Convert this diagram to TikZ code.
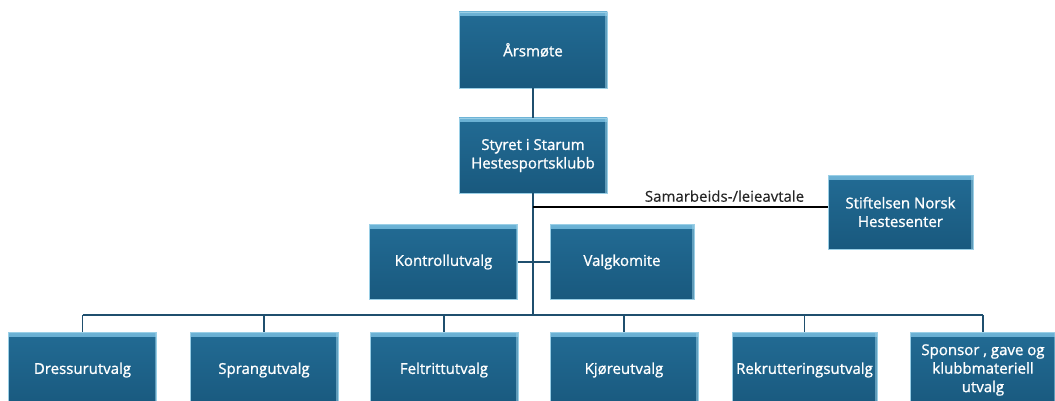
\documentclass[tikz,border=0pt]{standalone}
\usepackage{fontspec}
\setmainfont{Open Sans}[FakeBold=1.1]
\newfontfamily\labelfont{Open Sans}[FakeBold=0.3]
\definecolor{boxblue}{HTML}{19597E}
\definecolor{boxlight}{HTML}{226B94}
\definecolor{boxtop}{HTML}{6DB3D6}
\definecolor{boxedge}{HTML}{9ACFE6}
\definecolor{linkblue}{HTML}{1F4F6E}
\tikzset{
  orgbox/.style={rectangle, top color=boxlight, bottom color=boxblue, draw=boxedge, line width=0.7pt,
    text=white, font=\fontsize{15}{18.5}\selectfont, align=center,
    inner sep=2pt,
    path picture={
      \shade[top color=boxtop, bottom color=boxlight]
        (path picture bounding box.north west) rectangle
        ([yshift=-4pt]path picture bounding box.north east);
      \fill[boxedge, opacity=0.55]
        ([xshift=-2pt]path picture bounding box.north east) rectangle
        (path picture bounding box.south east);
    }},
  link/.style={draw=linkblue, line width=1.6pt},
  deal/.style={draw=black, line width=1.6pt},
}
\begin{document}
\begin{tikzpicture}[x=1pt,y=-1pt]
\useasboundingbox (0,0) rectangle (1055,401);
\begin{scope}
\clip (0,0) rectangle (1055,401);
% nodes
\node[orgbox, minimum width=148pt, minimum height=76pt] (aars) at (533,50) {Årsmøte};
\node[orgbox, minimum width=148pt, minimum height=75pt] (styret) at (533,155.5) {Styret i Starum\\Hestesportsklubb};
\node[orgbox, minimum width=145pt, minimum height=74pt] (stift) at (900.5,212) {Stiftelsen Norsk\\Hestesenter};
\node[orgbox, minimum width=148pt, minimum height=75pt] (kontroll) at (443.5,262) {Kontrollutvalg};
\node[orgbox, minimum width=144pt, minimum height=75pt] (valg) at (622,262) {Valgkomite};
\node[orgbox, minimum width=148pt, minimum height=76pt] (dressur) at (82.5,370) {Dressurutvalg};
\node[orgbox, minimum width=148pt, minimum height=76pt] (sprang) at (264,370) {Sprangutvalg};
\node[orgbox, minimum width=148pt, minimum height=76pt] (felt) at (444,370) {Feltrittutvalg};
\node[orgbox, minimum width=148pt, minimum height=76pt] (kjore) at (624,370) {Kjøreutvalg};
\node[orgbox, minimum width=145pt, minimum height=76pt] (rekr) at (804.5,370) {Rekrutteringsutvalg};
\node[orgbox, minimum width=146pt, minimum height=76pt] (spons) at (983,370) {Sponsor , gave og\\klubbmateriell\\utvalg};
% coordinates
\coordinate (bus) at (533,315);
\coordinate (deal) at (533,207);
\coordinate (busL) at (82.5,315);
\coordinate (busR) at (983,315);
% connectors
\draw[link] (aars.south) -- (styret.north);
\draw[link] (styret.south) -- (bus);
\draw[link] (kontroll.east) -- (valg.west);
\draw[link] (busL) -- (busR);
\foreach \n in {dressur,sprang,felt,kjore,rekr,spons}
  \draw[link] (\n.north |- bus) -- (\n.north);
\draw[deal] (deal) -- node[above=1pt, pos=0.65, text=black!85, font=\labelfont\fontsize{15}{18}\selectfont] (dlabel) {Samarbeids-/leieavtale} (stift.west |- deal);
\end{scope}
\end{tikzpicture}
\end{document}
